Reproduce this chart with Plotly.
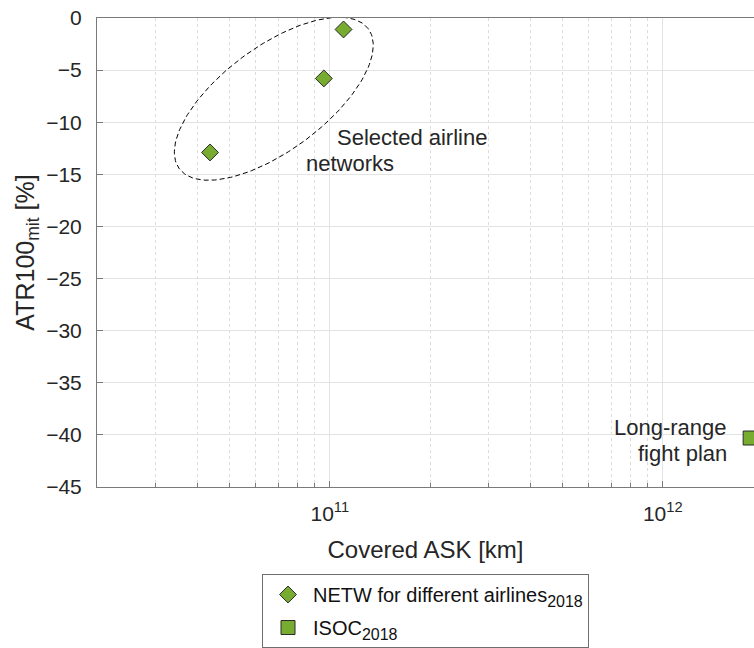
import numpy as np
import plotly.graph_objects as go

# ---- data ----
netw_ask = [1.10e11, 9.6e10, 4.37e10]
netw_atr = [-1.1, -5.8, -12.9]
isoc_ask = [1.83e12]
isoc_atr = [-40.3]
SUB = "<sub><span style='font-size:16px'>2018</span></sub>"
netw_name = "NETW for different airlines" + SUB
isoc_name = "ISOC" + SUB
y_ticks = [0, -5, -10, -15, -20, -25, -30, -35, -40, -45]
x_ticks = [1e11, 1e12]
x_ticklabels = ["10<sup>11</sup>", "10<sup>12</sup>"]
x_minor = [k * 10.0 ** e for e in (10, 11, 12) for k in range(2, 10)]

FONT = "Liberation Sans, Arial, sans-serif"
GREEN = "#77AC30"
TXT = "#262626"

W, H = 754, 648
ML, MR, MT, MB = 97, 0, 18, 161
xr = [np.log10(2.0e10), 12.274]
yr = [-45, 0]
pw = W - ML - MR
ph = H - MT - MB
px_per_dec = pw / (xr[1] - xr[0])
px_per_y = ph / (yr[1] - yr[0])

# ellipse around selected airline networks (defined in screen-pixel geometry)
e_cx, e_cy = 10.832, -7.75
e_a, e_b, e_th = 117.6, 52.0, np.deg2rad(36.5)
t = np.linspace(0, 2 * np.pi, 200)
dx = e_a * np.cos(e_th) * np.cos(t) - e_b * np.sin(e_th) * np.sin(t)
dy = e_a * np.sin(e_th) * np.cos(t) + e_b * np.cos(e_th) * np.sin(t)
ell_x = 10 ** (e_cx + dx / px_per_dec)
ell_y = e_cy + dy / px_per_y

fig = go.Figure()
fig.add_trace(go.Scatter(x=ell_x, y=ell_y, mode="lines", showlegend=False,
                         line=dict(color="black", width=1, dash="5px,3px"),
                         hoverinfo="skip"))
fig.add_trace(go.Scatter(x=netw_ask, y=netw_atr, mode="markers", name=netw_name,
                         legendgroup="a",
                         marker=dict(symbol="diamond", size=13, color=GREEN,
                                     line=dict(color="#2b2b2b", width=1))))
fig.add_trace(go.Scatter(x=isoc_ask, y=isoc_atr, mode="markers", name=isoc_name,
                         legendgroup="b", cliponaxis=False,
                         marker=dict(symbol="square", size=14, color=GREEN,
                                     line=dict(color="#2b2b2b", width=1))))

ann_font = dict(family=FONT, size=22, color=TXT)
fig.add_annotation(x=np.log10(1.035e11), y=-11.45, text="Selected airline",
                   xanchor="left", yanchor="middle", showarrow=False, font=ann_font)
fig.add_annotation(x=np.log10(8.36e10), y=-13.95, text="networks",
                   xanchor="left", yanchor="middle", showarrow=False, font=ann_font)
fig.add_annotation(x=np.log10(1.58e12), y=-39.25, text="Long-range",
                   xanchor="right", yanchor="middle", showarrow=False, font=ann_font)
fig.add_annotation(x=np.log10(1.58e12), y=-41.8, text="fight plan",
                   xanchor="right", yanchor="middle", showarrow=False, font=ann_font)

fig.update_layout(
    width=W, height=H,
    margin=dict(l=ML, r=MR, t=MT, b=MB, autoexpand=False),
    paper_bgcolor="white", plot_bgcolor="white",
    font=dict(family=FONT, color=TXT),
    legend=dict(x=(262 - ML) / pw, y=(H - MB - 574) / ph, xanchor="left", yanchor="top",
                bgcolor="white", bordercolor="#6e6e6e", borderwidth=1,
                font=dict(family=FONT, size=20, color="#111111"),
                itemwidth=40, tracegroupgap=4),
)

fig.update_xaxes(type="log", range=xr, showline=True, linecolor="#7a7a7a", linewidth=1,
                 mirror=True, ticks="inside", ticklen=6, tickcolor="#7a7a7a",
                 tickvals=x_ticks, ticktext=x_ticklabels,
                 tickfont=dict(family=FONT, size=21, color=TXT),
                 showgrid=True, gridcolor="#e3e3e3", gridwidth=1,
                 minor=dict(tickvals=x_minor, ticks="inside", ticklen=4, tickcolor="#7a7a7a",
                            showgrid=True, gridcolor="#dcdcdc", griddash="dot", gridwidth=1),
                 title=dict(text="Covered ASK [km]", font=dict(family=FONT, size=24, color=TXT),
                            standoff=16),
                 zeroline=False, automargin=False, ticklabelstandoff=8)
fig.update_yaxes(range=yr, showline=True, linecolor="#7a7a7a", linewidth=1, mirror=False,
                 ticks="inside", ticklen=6, tickcolor="#7a7a7a",
                 tickvals=y_ticks, tickfont=dict(family=FONT, size=21, color=TXT),
                 showgrid=True, gridcolor="#e3e3e3", gridwidth=1, zeroline=False,
                 title=dict(text="ATR100<sub>mit</sub> [%]",
                            font=dict(family=FONT, size=25, color=TXT), standoff=4),
                 automargin=False, ticklabelstandoff=10)

fig.write_html("out.html", config={"displayModeBar": False},
               post_script="document.body.style.margin='0';document.body.style.overflow='hidden';")
